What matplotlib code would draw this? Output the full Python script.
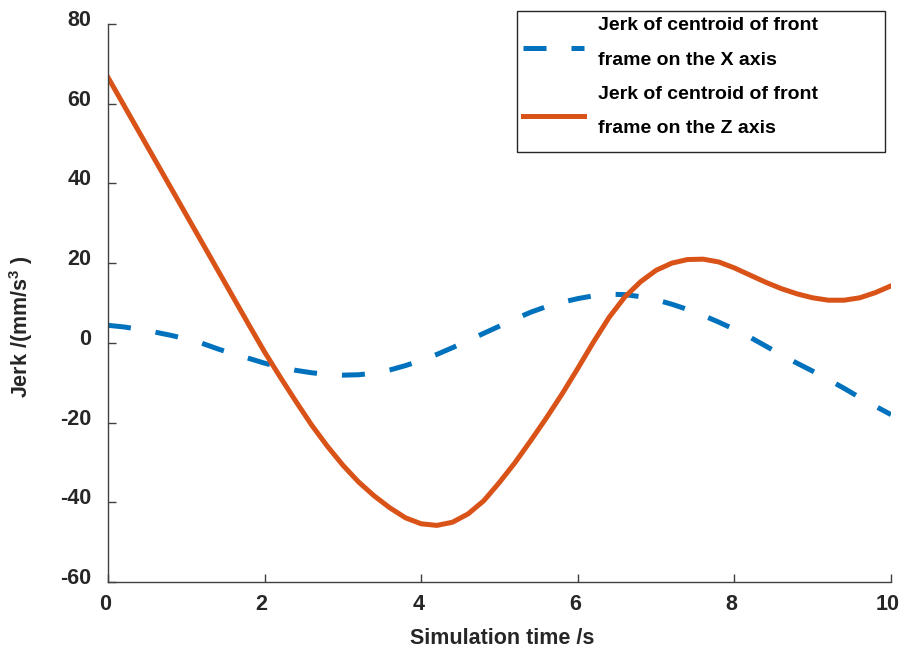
import matplotlib
matplotlib.use('Agg')
import matplotlib.pyplot as plt
import matplotlib.transforms as mtransforms
from matplotlib.patches import Rectangle

# ── data: jerk of front-frame centroid vs simulation time ──────────
time_s = [0.0, 0.2, 0.4, 0.6, 0.8, 1.0, 1.2, 1.4, 1.6, 1.8,
          2.0, 2.2, 2.4, 2.6, 2.8, 3.0, 3.2, 3.4, 3.6, 3.8,
          4.0, 4.2, 4.4, 4.6, 4.8, 5.0, 5.2, 5.4, 5.6, 5.8,
          6.0, 6.2, 6.4, 6.6, 6.8, 7.0, 7.2, 7.4, 7.6, 7.8,
          8.0, 8.2, 8.4, 8.6, 8.8, 9.0, 9.2, 9.4, 9.6, 9.8, 10.0]

jerk_x = [4.4, 4.0, 3.4, 2.7, 1.9, 1.0, -0.1, -1.5, -2.8, -3.9,
          -5.1, -6.1, -6.9, -7.5, -7.9, -8.1, -8.0, -7.6, -6.8, -5.7,
          -4.4, -2.9, -1.2, 0.6, 2.4, 4.2, 6.0, 7.7, 9.1, 10.2,
          11.1, 11.8, 12.2, 12.1, 11.6, 10.8, 9.7, 8.4, 6.9, 5.2,
          3.4, 1.4, -0.8, -3.0, -5.1, -7.1, -9.2, -11.4, -13.7, -15.9, -18.0]

jerk_z = [66.6, 59.7, 52.8, 45.9, 39.0, 32.1, 25.2, 18.3, 11.4, 4.5,
          -2.3, -8.6, -14.7, -20.6, -25.9, -30.7, -34.9, -38.4, -41.4, -43.9,
          -45.4, -45.8, -45.0, -42.9, -39.6, -35.0, -30.0, -24.5, -18.8, -12.8,
          -6.4, 0.2, 6.4, 11.5, 15.3, 18.2, 20.0, 20.9, 21.0, 20.3,
          18.8, 17.0, 15.2, 13.6, 12.3, 11.3, 10.7, 10.7, 11.3, 12.6, 14.3]

labels = ["Jerk of centroid of front\nframe on the X axis",
          "Jerk of centroid of front\nframe on the Z axis"]

x_ticks = [0, 2, 4, 6, 8, 10]
y_ticks = [-60, -40, -20, 0, 20, 40, 60, 80]

plt.rcParams['font.family'] = ['Liberation Sans', 'DejaVu Sans']
plt.rcParams['font.weight'] = 'bold'
plt.rcParams['axes.unicode_minus'] = False
plt.rcParams['mathtext.fontset'] = 'custom'
plt.rcParams['mathtext.rm'] = 'Liberation Sans:bold'
plt.rcParams['mathtext.it'] = 'Liberation Sans:bold'
plt.rcParams['mathtext.default'] = 'rm'

W, H = 902, 653
fig = plt.figure(figsize=(W / 100, H / 100), dpi=100)
ax = fig.add_axes([108 / W, 1 - 582 / H, 783 / W, 558 / H])

ax.plot(time_s, jerk_x, color='#0072BD', lw=3.6,
        linestyle=(0, (4.6, 5.0)), label=labels[0])
ax.plot(time_s, jerk_z, color='#D95319', lw=3.6, label=labels[1])

ax.set_xlim(0, 10)
ax.set_ylim(-60, 80)
ax.set_xticks(x_ticks)
ax.set_yticks(y_ticks)

for side in ['top', 'right']:
    ax.spines[side].set_visible(False)
for side in ['left', 'bottom']:
    ax.spines[side].set_color('#404040')
    ax.spines[side].set_linewidth(1.0)

ax.tick_params(direction='in', length=6, width=1.0, color='#404040',
               labelsize=15.5, labelcolor='#262626')
ax.tick_params(axis='y', pad=12)
ax.tick_params(axis='x', pad=9)

# nudge tick labels the way the original figure sits them
up = mtransforms.ScaledTranslation(0, 6 / 100, fig.dpi_scale_trans)
for lbl in ax.get_yticklabels():
    lbl.set_transform(lbl.get_transform() + up)
left = mtransforms.ScaledTranslation(-3 / 100, 0, fig.dpi_scale_trans)
for lbl in ax.get_xticklabels():
    lbl.set_transform(lbl.get_transform() + left)

ax.set_xlabel("Simulation time /s", fontsize=15.5, fontweight='bold', color='#262626')
ax.set_ylabel(r"Jerk /(mm/s$^{3}$ )", fontsize=15.5, fontweight='bold', color='#262626')
ax.xaxis.set_label_coords(0.503, -0.083)
ax.yaxis.set_label_coords(-0.093, 0.457)

# legend box is wider than its contents, so the frame is drawn separately
box_l, box_t, box_r, box_b = 517, 11, 885, 152
frame = Rectangle((box_l / W, 1 - box_b / H), (box_r - box_l) / W, (box_b - box_t) / H,
                  transform=fig.transFigure, facecolor='white', edgecolor='#262626',
                  lw=1.0, clip_on=False, zorder=4)
ax.add_patch(frame)

leg = ax.legend(loc='upper left', bbox_to_anchor=(box_l / W, 1 - box_t / H),
                bbox_transform=fig.transFigure, borderaxespad=0,
                fontsize=14, handlelength=3.14, handletextpad=0.7,
                labelspacing=0.88, borderpad=0.32, frameon=False)
leg.set_zorder(5)
for t in leg.get_texts():
    t.set_linespacing(2.35)
# handle lines sit a little below the middle of their two-line labels
down = mtransforms.ScaledTranslation(0, -5 / 100, fig.dpi_scale_trans)
for h in leg.get_lines():
    h.set_transform(h.get_transform() + down)

plt.savefig("out.png", dpi=100)
plt.close()
